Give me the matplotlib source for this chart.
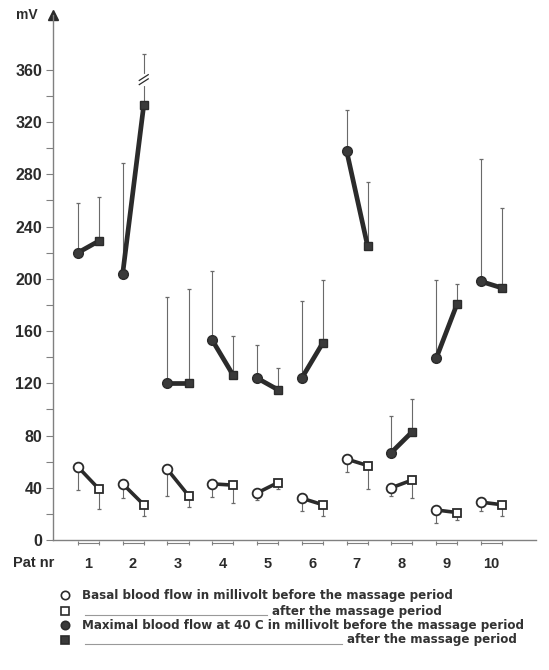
import matplotlib
matplotlib.use("Agg")
import matplotlib.pyplot as plt
from matplotlib.lines import Line2D
import numpy as np

plt.rcParams['font.family'] = ['Liberation Sans', 'DejaVu Sans']

pats = [1, 2, 3, 4, 5, 6, 7, 8, 9, 10]
pat_labels = ['1', '2', '3', '4', '5', '6', '7', '8', '9', '10']

# basal blood flow (mV), error bars go down
basal_before = [56, 43, 54, 43, 36, 32, 62, 40, 23, 29]
basal_before_low = [38, 32, 34, 33, 31, 22, 52, 34, 13, 22]
basal_after = [39, 27, 34, 42, 44, 27, 57, 46, 21, 27]
basal_after_low = [24, 18, 25, 28, 39, 18, 39, 32, 15, 18]

# maximal blood flow at 40 C (mV), error bars go up
max_before = [220, 204, 120, 153, 124, 124, 298, 67, 139, 198]
max_before_high = [258, 289, 186, 206, 149, 183, 329, 95, 199, 292]
max_after = [229, 333, 120, 126, 115, 151, 225, 83, 181, 193]
max_after_high = [263, 372, 192, 156, 132, 199, 274, 108, 196, 254]
broken_bar = 1  # index of the after-bar drawn with a break

ink = '#2b2b2b'
bar_col = '#6a6a6a'
axis_col = '#808080'

W, H = 549, 670
fig = plt.figure(figsize=(W / 100, H / 100), dpi=100)
ax = fig.add_axes([53.3 / W, 1 - 540 / H, (536 - 53.3) / W, (540 - 15) / H])

x = np.array(pats, dtype=float)
xb = x - 0.23
xa = x + 0.24


def err_bars(xs, y0, y1):
    ax.vlines(xs, y0, y1, color=bar_col, lw=0.8, zorder=1)
    ax.plot(xs, y1, ls='none', marker='_', ms=3.5, mew=0.9, color=bar_col, zorder=1)


err_bars(xb, basal_before, basal_before_low)
err_bars(xa, basal_after, basal_after_low)
err_bars(xb, max_before, max_before_high)
err_bars(xa, max_after, max_after_high)

# break marks on the long bar of patient 2
i = broken_bar
mid = (max_after[i] + max_after_high[i]) / 2
ax.plot([xa[i], xa[i]], [mid - 3, mid + 3], color='white', lw=3, zorder=2)
for d in (-1.6, 1.6):
    ax.plot([xa[i] - 0.1, xa[i] + 0.1], [mid + d - 2.2, mid + d + 2.2],
            color=ink, lw=0.9, zorder=3)

for k in range(len(pats)):
    ax.plot([xb[k], xa[k]], [basal_before[k], basal_after[k]], color=ink, lw=2.6,
            solid_capstyle='butt', zorder=2)
    ax.plot([xb[k], xa[k]], [max_before[k], max_after[k]], color=ink, lw=3.4,
            solid_capstyle='butt', zorder=2)

ax.plot(xb, basal_before, 'o', ls='none', ms=7, mfc='white', mec=ink, mew=1.3, zorder=4)
ax.plot(xa, basal_after, 's', ls='none', ms=6, mfc='white', mec=ink, mew=1.3, zorder=4)
ax.plot(xb, max_before, 'o', ls='none', ms=7, mfc='#3a3a3a', mec=ink, mew=1, zorder=4)
ax.plot(xa, max_after, 's', ls='none', ms=6, mfc='#3a3a3a', mec=ink, mew=1, zorder=4)

# small brackets under the axis
for k in range(len(pats)):
    ax.plot([xb[k], xa[k]], [-2.6, -2.6], color=axis_col, lw=0.8, clip_on=False)
    ax.plot([xb[k], xa[k]], [-2.6, -2.6], ls='none', marker='|', ms=3.5, mew=0.8,
            color=axis_col, clip_on=False)

ax.set_xlim(0.22, 11.0)
ax.set_ylim(0, 402)
for s in ('top', 'right'):
    ax.spines[s].set_visible(False)
ax.spines['left'].set_color(axis_col)
ax.spines['bottom'].set_color(axis_col)
ax.spines['left'].set_linewidth(1)
ax.spines['bottom'].set_linewidth(1)
ax.plot([0], [1], marker='^', ms=7, color=ink, transform=ax.transAxes, clip_on=False)

ax.set_yticks(np.arange(0, 361, 40))
ax.set_yticks(np.arange(20, 361, 40), minor=True)
ax.tick_params(axis='y', which='both', direction='out', length=5, width=0.8,
               color=axis_col, pad=3, labelsize=11.5, labelcolor=ink)
for t in ax.get_yticklabels():
    t.set_fontweight('bold')
ax.set_xticks(pats, pat_labels)
ax.tick_params(axis='x', length=0, pad=12, labelsize=10.5, labelcolor=ink)
for t in ax.get_xticklabels():
    t.set_fontweight('bold')

fig.text(13 / W, 1 - 563 / H, 'Pat nr', fontsize=10.5, fontweight='bold', color=ink,
         ha='left', va='center')
fig.text(27 / W, 1 - 15 / H, 'mV', fontsize=10, fontweight='bold', color=ink,
         ha='center', va='center')

# legend
rows = [595, 611, 625, 639.5]
styles = [('o', 'white'), ('s', 'white'), ('o', '#3a3a3a'), ('s', '#3a3a3a')]
texts = ['Basal blood flow in millivolt before the massage period',
         'after the massage period',
         'Maximal blood flow at 40 C in millivolt before the massage period',
         'after the massage period']
line_end = [None, 267, None, 342]
leg_font = dict(fontsize=8.6, fontweight='bold', family='DejaVu Sans', color='#333333',
                ha='left', va='center')
for r, (m, fc), t, le in zip(rows, styles, texts, line_end):
    fy = 1 - r / H
    fig.add_artist(Line2D([65 / W], [fy], marker=m, ms=6 if m == 'o' else 5.5,
                          mfc=fc, mec=ink, mew=1.2, ls='none'))
    if le is None:
        fig.text(81.7 / W, fy, t, **leg_font)
    else:
        fig.add_artist(Line2D([85 / W, le / W], [fy - 4 / H, fy - 4 / H],
                              color='#999999', lw=0.8))
        fig.text((le + 5) / W, fy, t, **leg_font)

fig.savefig('out.png', dpi=100)
